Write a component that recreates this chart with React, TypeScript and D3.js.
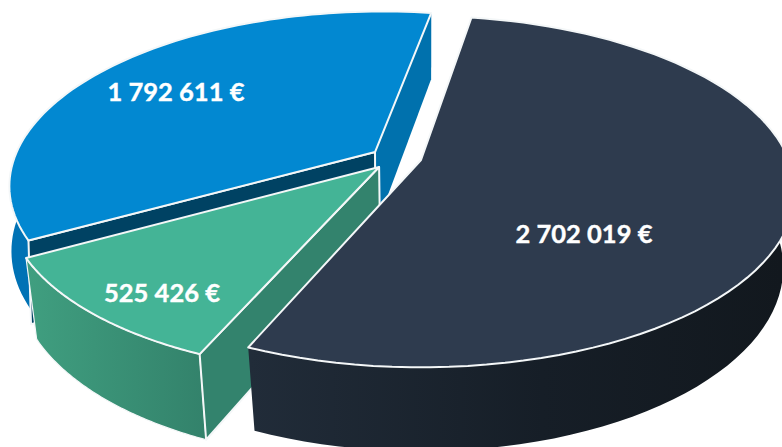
import React from "react";
import * as d3 from "d3";

const names = ["dark", "green", "blue"];
const values = [2702019, 525426, 1792611];
const labels = ["2 702 019 €", "525 426 €", "1 792 611 €"];

const topColors = ["#2e3b4e", "#44b496", "#0288d1"];
const wallFills = ["url(#wall-dark)", "url(#wall-green)", "#0072b5"];
const startFaces = [null, "#33836d", "#004263"];
const endFaces = [null, null, "#0071ad"];
const offsets: [number, number][] = [[0, 0], [-0.113, 0.041], [-0.126, -0.047]];
const radiiU = [1, 0.985, 0.982];
const radiiV = [1, 0.985, 0.99];
const wallShrink = [0.0317, 0.025, 0.006];
const wallDepth = [1, 1, 0.82];
const labelPos: [number, number][] = [[584, 233], [162, 292], [176, 91]];

const W = 782, H = 447;
const cx = 421, cy = 160, ax = 368, by = 170, persp = 0.18, depthH = 78;

type P = [number, number];
// Disc coordinates -> screen, with z=0 on the top surface and z=1 on the bottom one
const project = (u: number, v: number, z: number, q: number): P => {
  const w = 1 - persp * v + (q * Math.min(z, 1));
  return [cx + (ax * u) / w, cy + (by * v + depthH * z) / w];
};

const pie = d3.pie<number>().sort(null).startAngle((9.3 * Math.PI) / 180).endAngle((369.3 * Math.PI) / 180);
const arcs = pie(values);
const line = d3.line<P>();

const arcSamples = (a0: number, a1: number) => d3.range(0, 81).map((i) => a0 + ((a1 - a0) * i) / 80);

export default function App() {
  const slices = arcs.map((a, i) => {
    const [ou, ov] = offsets[i];
    const q = wallShrink[i];
    const at = (t: number, z: number) => project(ou + radiiU[i] * Math.sin(t), ov - radiiV[i] * Math.cos(t), z, q);
    const apex = (z: number) => project(ou, ov, z, q);
    const angles = arcSamples(a.startAngle, a.endAngle);
    const top = angles.map((t) => at(t, 0));
    const bottom = angles.map((t) => at(t, wallDepth[i]));
    const closed = (pts: P[]) => (line(pts) as string) + "Z";
    return {
      name: names[i],
      top: closed([apex(0), ...top]),
      wall: closed([...top, ...[...bottom].reverse()]),
      startFace: closed([apex(0), at(a.startAngle, 0), at(a.startAngle, 1), apex(1)]),
      endFace: closed([apex(0), at(a.endAngle, 0), at(a.endAngle, 1), apex(1)]),
    };
  });

  const stroke = { stroke: "#f4f7f8", strokeWidth: 2, strokeLinejoin: "round" as const };
  // The dark slice is painted last, blue first
  const order = [2, 1, 0];

  return (
    <svg width={W} height={H} viewBox={`0 0 ${W} ${H}`} style={{ position: "fixed", left: 0, top: 0, background: "#fff" }}>
      <defs>
        <linearGradient id="wall-dark" gradientUnits="userSpaceOnUse" x1={250} x2={782} y1={0} y2={0}>
          <stop offset="0" stopColor="#212c39" />
          <stop offset="0.55" stopColor="#161e27" />
          <stop offset="1" stopColor="#12181e" />
        </linearGradient>
        <linearGradient id="wall-green" gradientUnits="userSpaceOnUse" x1={25} x2={205} y1={0} y2={0}>
          <stop offset="0" stopColor="#409f80" />
          <stop offset="1" stopColor="#33826b" />
        </linearGradient>
      </defs>
      {order.map((i) => {
        const s = slices[i];
        return (
          <g key={s.name}>
            <path d={s.wall} fill={wallFills[i]} stroke={i === 1 ? "#f4f7f8" : "none"} strokeWidth={i === 1 ? 1.2 : 0} />
            {endFaces[i] && <path d={s.endFace} fill={endFaces[i] as string} stroke="none" />}
            {startFaces[i] && <path d={s.startFace} fill={startFaces[i] as string} {...stroke} />}
            <path d={s.top} fill={topColors[i]} {...stroke} />
          </g>
        );
      })}
      {labels.map((t, i) => (
        <text
          key={t}
          x={labelPos[i][0]}
          y={labelPos[i][1]}
          textAnchor="middle"
          dominantBaseline="central"
          fontFamily="Lato, sans-serif"
          fontWeight={700}
          fontSize={25.5}
          fill="#fff"
          stroke="#fff"
          strokeWidth={0.4}
        >
          {t}
        </text>
      ))}
    </svg>
  );
}
